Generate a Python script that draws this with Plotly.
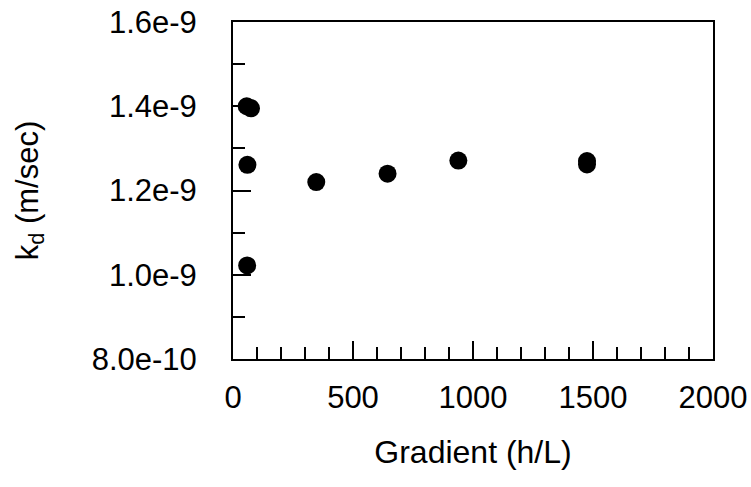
import plotly.graph_objects as go

# Hydraulic gradient vs. measured k_d
gradient = [57, 75, 60, 59, 347, 644, 939, 1475, 1475]
kd = [1.400e-9, 1.395e-9, 1.261e-9, 1.022e-9, 1.220e-9, 1.240e-9, 1.271e-9, 1.270e-9, 1.262e-9]

x_tickvals = [0, 500, 1000, 1500, 2000]
x_ticktext = ["0", "500", "1000", "1500", "2000"]
y_tickvals = [8.0e-10, 1.0e-9, 1.2e-9, 1.4e-9, 1.6e-9]
y_ticktext = ["8.0e-10", "1.0e-9", "1.2e-9", "1.4e-9", "1.6e-9"]

FONT = "Liberation Sans, Arial, Helvetica, sans-serif"

fig = go.Figure(
    go.Scatter(
        x=gradient,
        y=kd,
        mode="markers",
        marker=dict(size=18, color="black", line=dict(width=0)),
        showlegend=False,
        cliponaxis=False,
    )
)

axis_common = dict(
    showgrid=False,
    zeroline=False,
    showline=True,
    linecolor="black",
    linewidth=2,
    mirror=True,
    ticks="inside",
    ticklen=18,
    tickwidth=2,
    tickcolor="black",
    automargin=False,
    tickfont=dict(family=FONT, size=31, color="black"),
)

fig.update_xaxes(
    range=[0, 2000],
    tickmode="array",
    tickvals=x_tickvals,
    ticktext=x_ticktext,
    minor=dict(dtick=100, tick0=0, ticks="inside", ticklen=12, tickwidth=2, tickcolor="black"),
    ticklabelstandoff=10,
    title=dict(text="Gradient (h/L)", font=dict(family=FONT, size=32, color="black"), standoff=26),
    **axis_common,
)

fig.update_yaxes(
    range=[8.0e-10, 1.6e-9],
    tickmode="array",
    tickvals=y_tickvals,
    ticktext=y_ticktext,
    minor=dict(dtick=1e-10, tick0=8e-10, ticks="inside", ticklen=12, tickwidth=2, tickcolor="black"),
    ticklabelstandoff=28,
    title=dict(text="k<sub>d</sub> (m/sec)", font=dict(family=FONT, size=31, color="black"), standoff=44),
    **axis_common,
)

fig.update_layout(
    width=751,
    height=487,
    margin=dict(l=233, r=38, t=22, b=128),
    paper_bgcolor="white",
    plot_bgcolor="white",
)

fig.write_html("out.html")
